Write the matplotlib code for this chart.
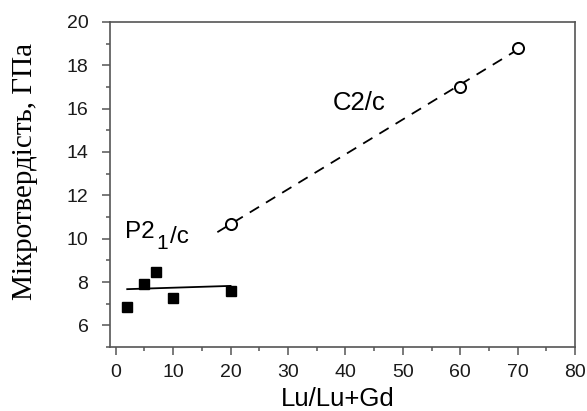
import numpy as np
import matplotlib.pyplot as plt
from matplotlib.ticker import MultipleLocator

plt.rcParams['font.family'] = ['Liberation Sans', 'DejaVu Sans']

# P2_1/c phase (filled squares)
x_p21 = [2, 5, 7, 10, 20]
y_p21 = [6.83, 7.89, 8.44, 7.24, 7.6]
fit_p21_x = [2, 20]
fit_p21_y = [7.67, 7.82]

# C2/c phase (open circles)
x_c2 = [20, 60, 70]
y_c2 = [10.67, 16.98, 18.8]
fit_c2_x = [17.7, 71.1]
fit_c2_y = [10.30, 18.9]

fig = plt.figure(figsize=(5.87, 4.11), dpi=100)
ax = fig.add_axes([0.1874, 0.1557, 0.7922, 0.7908])

ax.plot(fit_p21_x, fit_p21_y, color='black', lw=1.3)
ax.plot(x_p21, y_p21, 's', color='black', ms=7)

ax.plot(fit_c2_x, fit_c2_y, color='black', lw=1.3, ls=(0, (6, 4.5)))
ax.plot(x_c2, y_c2, 'o', mfc='white', mec='black', mew=1.4, ms=8)

ax.text(42.4, 16.24, 'C2/c', fontsize=18.5, ha='center', va='center')

# space group label with a near full-size subscript
t1 = ax.text(1.6, 10.02, 'P2', fontsize=17.5, ha='left', va='baseline')
ax.annotate('1', xy=(1, 0), xycoords=t1, xytext=(1.5, -4), textcoords='offset points',
            fontsize=15, ha='left', va='baseline')
ax.annotate('/c', xy=(1, 0), xycoords=t1, xytext=(11, 0), textcoords='offset points',
            fontsize=17.5, ha='left', va='baseline')

ax.set_xlim(-1, 80)
ax.set_ylim(5, 20)
ax.xaxis.set_major_locator(MultipleLocator(10))
ax.xaxis.set_minor_locator(MultipleLocator(5))
ax.yaxis.set_major_locator(MultipleLocator(2))
ax.yaxis.set_minor_locator(MultipleLocator(1))
ax.tick_params(which='both', direction='out', colors='#555555', labelcolor='#1a1a1a',
               labelsize=14)
ax.tick_params(axis='y', which='major', length=5.5, width=1.1, pad=10)
ax.tick_params(axis='x', which='major', length=5.5, width=1.1, pad=7)
ax.tick_params(which='minor', length=3, width=1.1)
for s in ax.spines.values():
    s.set_color('#555555')
    s.set_linewidth(1.2)

ax.set_xlabel('Lu/Lu+Gd', fontsize=18.5)
ax.xaxis.set_label_coords(0.489, -0.123)
ax.set_ylabel('Мікротвердість, ГПа', fontsize=21, family=['Liberation Serif'])
ax.yaxis.set_label_coords(-0.155, 0.54)

fig.savefig('out.png', dpi=100)
